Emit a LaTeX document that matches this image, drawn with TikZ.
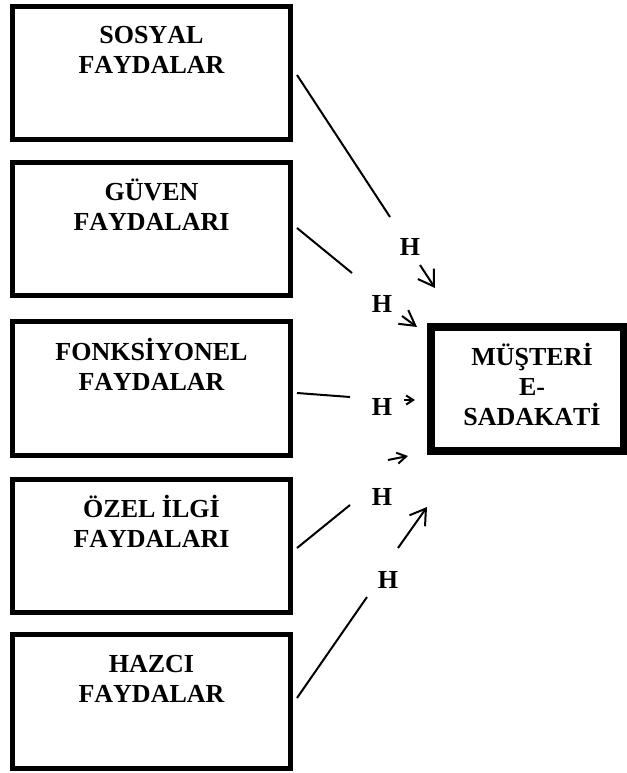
\documentclass[tikz,border=0pt]{standalone}
\usepackage{fontspec}
\setmainfont{Liberation Serif}[Kerning=Off]
\usetikzlibrary{arrows.meta}
\begin{document}
\begin{tikzpicture}[x=1pt,y=-1pt,
  srcbox/.style={draw=black,line width=5pt,minimum width=278pt,minimum height=133pt,inner sep=0pt,fill=white},
  dstbox/.style={draw=black,line width=8pt,minimum width=193pt,minimum height=124pt,inner sep=0pt},
  boxtext/.style={anchor=base,align=center,inner sep=0pt,font=\bfseries\fontsize{26}{30}\selectfont},
  hlabel/.style={anchor=base,inner sep=0pt,font=\bfseries\fontsize{26}{30}\selectfont},
  conn/.style={line width=2pt},
  bigtip/.style={line width=2pt,-{Straight Barb[length=15pt,width=19pt]}},
  midtip/.style={line width=2pt,-{Straight Barb[length=15pt,width=17pt]}},
  smalltip/.style={line width=2pt,-{Straight Barb[length=9pt,width=11pt]}},
  tinytip/.style={line width=2pt,-{Straight Barb[length=7pt,width=9pt]}}]
\useasboundingbox (0,0) rectangle (626,773);
\fill[white] (0,0) rectangle (626,773);
% source boxes
\node[srcbox] (b1) at (151.5,73) {};
\node[srcbox] (b2) at (151.5,229) {};
\node[srcbox,minimum height=134pt] (b3) at (151.5,388.5) {};
\node[srcbox] (b4) at (151.5,546) {};
\node[srcbox,minimum height=134pt] (b5) at (151.5,701.5) {};
\node[boxtext] (t1) at (151.5,74) {SOSYAL\\FAYDALAR};
\node[boxtext] (t2) at (151.5,230) {GÜVEN\\FAYDALARI};
\node[boxtext] (t3) at (151.5,390) {FONKSİYONEL\\FAYDALAR};
\node[boxtext] (t4) at (151.5,547) {ÖZEL İLGİ\\FAYDALARI};
\node[boxtext] (t5) at (151.5,702) {HAZCI\\FAYDALAR};
% target box
\node[dstbox] (tg) at (527.5,389) {};
\node[boxtext] (tt) at (532,425) {MÜŞTERİ\\E-\\SADAKATİ};
% H labels
\node[hlabel] (h1) at (410,255) {H};
\node[hlabel] (h2) at (382,312) {H};
\node[hlabel] (h3) at (382,415) {H};
\node[hlabel] (h4) at (382,505) {H};
\node[hlabel] (h5) at (388,588) {H};
% connector points
\coordinate (a1) at (297,75);  \coordinate (e1) at (390,217);
\coordinate (s1) at (420,265); \coordinate (p1) at (435,288);
\coordinate (a2) at (297,228); \coordinate (e2) at (352,273);
\coordinate (s2) at (402,316); \coordinate (p2) at (417,327);
\coordinate (a3) at (297,393); \coordinate (e3) at (350,397);
\coordinate (s3) at (404,400); \coordinate (p3) at (415,400);
\coordinate (a4) at (297,548); \coordinate (e4) at (350,505);
\coordinate (s4) at (388,460); \coordinate (p4) at (408,456);
\coordinate (a5) at (297,698); \coordinate (e5) at (367,597);
\coordinate (s5) at (398,548); \coordinate (p5) at (427,507);
% connectors
\draw[conn] (a1) -- (e1);
\draw[bigtip] (s1) -- (p1);
\draw[conn] (a2) -- (e2);
\draw[midtip] (s2) -- (p2);
\draw[conn] (a3) -- (e3);
\draw[tinytip] (s3) -- (p3);
\draw[conn] (a4) -- (e4);
\draw[smalltip] (s4) -- (p4);
\draw[conn] (a5) -- (e5);
\draw[bigtip] (s5) -- (p5);
\end{tikzpicture}
\end{document}
